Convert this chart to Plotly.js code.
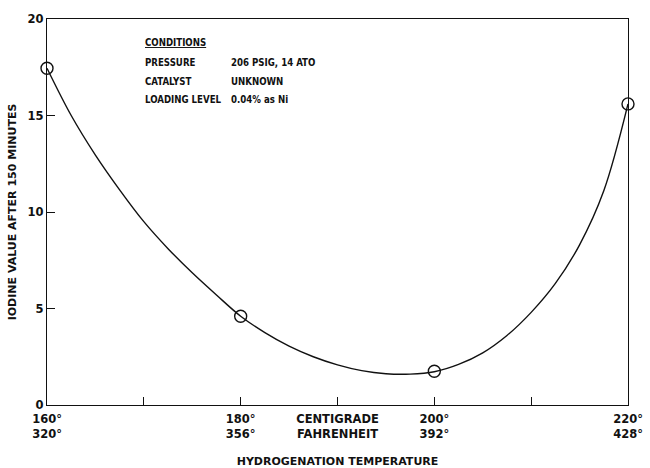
<!DOCTYPE html>
<html>
<head>
<meta charset="utf-8">
<script src="https://cdn.plot.ly/plotly-3.0.1.min.js"></script>
<style>html,body{margin:0;padding:0;background:#fff}#chart{width:650px;height:468px}</style>
</head>
<body>
<div id="chart"></div>
<script>
// measured data points (temperature in °C, iodine value)
var tempC = [160, 180, 200, 220];
var iodineValue = [17.45, 4.6, 1.75, 15.6];

// smooth fitted curve
var curveX = [160, 162.5, 165, 167.5, 170, 172.5, 175, 177.5, 180, 182.5, 185, 187.5, 190, 192.5, 195, 197.5, 200, 202.5, 205, 207.5, 210, 212.5, 215, 217.5, 220];
var curveY = [17.45, 15.0, 12.95, 11.15, 9.5, 8.1, 6.85, 5.7, 4.6, 3.75, 3.05, 2.5, 2.08, 1.78, 1.62, 1.6, 1.72, 2.1, 2.7, 3.6, 4.8, 6.3, 8.3, 11.1, 15.6];

// axis ticks
var xTickVals = [160, 170, 180, 190, 200, 210, 220];
var xTickText = ["160°<br>320°", "", "180°<br>356°", "CENTIGRADE<br>FAHRENHEIT", "200°<br>392°", "", "220°<br>428°"];
var yTickVals = [0, 5, 10, 15, 20];

// conditions box
var condHeader = "CONDITIONS";
var condLabels = ["PRESSURE", "CATALYST", "LOADING LEVEL"];
var condValues = ["206 PSIG, 14 ATO", "UNKNOWN", "0.04% as Ni"];

var txtFont = {family: "Liberation Sans Narrow, DejaVu Sans Condensed, sans-serif", size: 9.6, color: "#111", weight: "bold"};
var annotations = [{
  xref: "paper", yref: "paper", x: 0.165, y: 0.9386, xanchor: "left", yanchor: "middle",
  text: "<u>" + condHeader + "</u>", showarrow: false, font: txtFont
}];
var rowY = [0.8868, 0.8376, 0.7927];
for (var i = 0; i < condLabels.length; i++) {
  annotations.push({xref: "paper", yref: "paper", x: 0.165, y: rowY[i], xanchor: "left", yanchor: "middle",
    text: condLabels[i], showarrow: false, font: txtFont});
  annotations.push({xref: "paper", yref: "paper", x: 0.313, y: rowY[i], xanchor: "left", yanchor: "middle",
    text: condValues[i], showarrow: false, font: txtFont});
}

var traces = [
  {x: curveX, y: curveY, mode: "lines", line: {color: "#111", width: 1.4, shape: "spline", smoothing: 1.0}, hoverinfo: "skip"},
  {x: tempC, y: iodineValue, mode: "markers", cliponaxis: false,
   marker: {symbol: "circle-open", size: 12, color: "#111", line: {color: "#111", width: 1.4}}}
];

var axFont = {family: "DejaVu Sans, sans-serif", size: 11.5, color: "#111", weight: "bold"};
var layout = {
  width: 650, height: 468,
  margin: {l: 47, r: 22, t: 19, b: 63},
  paper_bgcolor: "#fff", plot_bgcolor: "#fff",
  showlegend: false,
  xaxis: {
    range: [160, 220], tickmode: "array", tickvals: xTickVals, ticktext: xTickText,
    ticks: "inside", ticklen: 8, tickwidth: 1, tickcolor: "#111",
    showgrid: false, zeroline: false, showline: true, linecolor: "#111", linewidth: 1.3, mirror: true,
    tickfont: axFont, tickangle: 0, ticklabelstandoff: 3,
    title: {text: "HYDROGENATION TEMPERATURE", font: {family: "DejaVu Sans, sans-serif", size: 11, color: "#111", weight: "bold"}, standoff: 17}
  },
  yaxis: {
    range: [0, 20], tickmode: "array", tickvals: yTickVals,
    ticks: "inside", ticklen: 8, tickwidth: 1, tickcolor: "#111",
    showgrid: false, zeroline: false, showline: true, linecolor: "#111", linewidth: 1.3, mirror: true,
    tickfont: axFont,
    title: {text: "IODINE VALUE AFTER 150 MINUTES", font: {family: "DejaVu Sans, sans-serif", size: 11, color: "#111", weight: "bold"}, standoff: 8}
  },
  annotations: annotations
};

Plotly.newPlot("chart", traces, layout, {displayModeBar: false, staticPlot: true});
</script>
</body>
</html>
